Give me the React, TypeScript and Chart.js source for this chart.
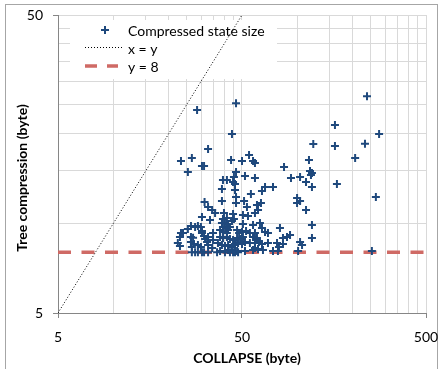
import React, { useEffect, useRef } from "react";
import { Chart, registerables } from "chart.js";

Chart.register(...registerables);

// ---- data ----
const collapseBytes = [
  28.5, 32.7, 23.3, 26.7, 30.3, 31.1, 25.4, 31.3, 32.7, 34.4, 30.3, 33.5, 26.4, 27.8, 25.4, 28.8, 29.9, 30.3, 23.3, 23.9,
  23.0, 26.4, 27.1, 30.3, 31.1, 31.5, 32.7, 32.3, 22.4, 23.0, 26.4, 27.4, 26.7, 28.8, 29.9, 32.7, 34.4, 26.7, 27.8, 28.8,
  30.3, 31.1, 32.7, 34.8, 44.1, 46.4, 43.6, 50.0, 54.6, 57.4, 58.8, 46.4, 45.2, 51.9, 58.8, 39.4, 41.4, 44.7, 45.8, 38.9,
  45.8, 55.9, 38.9, 46.4, 46.4, 51.3, 64.2, 63.4, 53.2, 60.3, 35.7, 39.9, 44.7, 50.6, 53.9, 58.8, 39.4, 41.4, 44.1, 45.2,
  50.6, 57.4, 38.9, 40.4, 42.0, 39.4, 41.4, 43.0, 38.0, 39.4, 41.4, 42.0, 47.0, 48.2, 50.0, 34.8, 38.0, 39.4, 41.4, 43.0,
  44.7, 47.0, 48.8, 50.6, 51.9, 55.2, 57.4, 60.3, 37.0, 38.9, 40.4, 42.0, 44.1, 45.8, 47.6, 50.0, 55.2, 58.8, 38.0, 40.4,
  42.0, 44.7, 47.0, 47.6, 51.9, 57.4, 61.1, 36.6, 43.0, 45.8, 52.6, 66.7, 73.7, 61.1, 99.6, 103.4, 99.6, 111.4, 111.4, 120.0,
  62.6, 64.2, 66.7, 69.2, 80.4, 120.0, 91.2, 87.8, 83.5, 58.8, 60.3, 61.8, 64.2, 69.2, 77.5, 79.4, 78.4, 103.4, 106.0, 100.9,
  120.0, 65.0, 73.7, 58.8, 83.5, 239, 160, 278, 122, 160, 233, 206, 115.6, 84.6, 117.1, 120.0, 118.5, 92.3, 103.4, 164,
  267, 254,
];
const treeBytes = [
  24.0, 17.75, 16.18, 16.56, 15.57, 15.57, 14.86, 11.79, 11.34, 11.08, 10.5, 10.26, 9.8, 9.72, 9.57, 9.8, 9.72, 9.42, 9.28, 9.28,
  9.0, 9.0, 8.95, 9.28, 9.07, 8.86, 9.0, 8.65, 8.59, 8.39, 8.65, 8.52, 8.33, 8.46, 8.33, 8.46, 8.26, 8.0, 8.0, 8.0,
  8.0, 8.0, 8.0, 8.79, 19.94, 25.3, 16.31, 16.18, 16.95, 16.18, 15.94, 14.86, 14.3, 14.41, 14.19, 13.97, 13.97, 13.76, 13.55, 13.04,
  12.94, 12.54, 11.88, 12.25, 11.7, 11.88, 12.84, 11.7, 11.34, 11.52, 10.83, 10.83, 10.75, 10.66, 10.58, 10.83, 10.34, 10.42, 10.18, 10.34,
  9.95, 9.87, 10.02, 10.02, 9.95, 9.72, 9.64, 9.72, 9.5, 9.35, 9.28, 9.5, 9.5, 9.28, 9.35, 9.28, 9.0, 8.93, 9.0, 8.86,
  8.79, 8.93, 8.86, 9.0, 8.65, 9.28, 9.0, 8.79, 8.59, 8.46, 8.39, 8.46, 8.33, 8.46, 8.59, 8.52, 8.59, 8.59, 8.07, 8.0,
  8.14, 8.0, 8.07, 8.0, 8.07, 8.14, 8.2, 8.0, 8.0, 8.0, 9.42, 13.24, 13.24, 11.08, 12.16, 11.88, 11.7, 11.08, 13.76, 13.24,
  10.02, 9.64, 9.35, 9.28, 9.64, 9.87, 9.14, 9.0, 8.93, 9.28, 8.93, 8.65, 8.52, 8.59, 8.59, 8.33, 8.07, 8.65, 8.46, 8.07,
  8.93, 8.14, 8.07, 8.26, 8.52, 26.7, 21.37, 19.94, 18.45, 18.17, 18.5, 16.56, 16.31, 15.45, 14.98, 14.75, 14.52, 14.19, 14.3, 13.55,
  12.25, 8.07,
];
const identityX = [5, 50];
const identityY = [5, 50];
const thresholdX = [5, 500];
const thresholdY = [8, 8];
const xTickValues = [5, 10, 15, 20, 25, 30, 35, 40, 45, 50, 100, 150, 200, 250, 300, 350, 400, 450, 500];
const yTickValues = [5, 10, 15, 20, 25, 30, 35, 40, 45, 50];
const xLabelled = [5, 50, 500];
const yLabelled = [5, 50];
const seriesNames = ["Compressed state size", "x = y", "y = 8"];
const xTitle = "COLLAPSE (byte)";
const yTitle = "Tree compression (byte)";

const FONT = "Lato, 'Open Sans', sans-serif";
const MARKER = "#1f497d";
const RED = "#cf6a65";
const GRID = "#d9d9d9";
const AXIS = "#868686";

const overlay = {
  id: "overlay",
  beforeDraw(chart: any) {
    const ctx = chart.ctx;
    ctx.save();
    ctx.fillStyle = "#fff";
    ctx.fillRect(0, 0, chart.width, chart.height);
    ctx.strokeStyle = "#a6a6a6";
    ctx.lineWidth = 1;
    ctx.strokeRect(5.5, 4.5, chart.width - 7, chart.height + 20);
    ctx.restore();
  },
  beforeDatasetsDraw(chart: any) {
    const ctx = chart.ctx;
    const a = chart.chartArea;
    const lx = a.left + 12;
    const ly = a.top + 5;
    ctx.save();
    ctx.fillStyle = "#fff";
    ctx.fillRect(lx, ly, 207, 59);
    const symX = a.left + 27;
    const textX = a.left + 70;
    const rows = [ly + 10, ly + 28, ly + 46];
    ctx.strokeStyle = MARKER;
    ctx.lineWidth = 2;
    const cx = a.left + 47;
    ctx.beginPath();
    ctx.moveTo(cx - 4, rows[0]);
    ctx.lineTo(cx + 4, rows[0]);
    ctx.moveTo(cx, rows[0] - 4);
    ctx.lineTo(cx, rows[0] + 4);
    ctx.stroke();
    ctx.strokeStyle = "#000";
    ctx.lineWidth = 1;
    ctx.setLineDash([1, 2]);
    ctx.beginPath();
    ctx.moveTo(symX, rows[1] - 0.5);
    ctx.lineTo(symX + 38, rows[1] - 0.5);
    ctx.stroke();
    ctx.strokeStyle = RED;
    ctx.lineWidth = 3.5;
    ctx.setLineDash([12, 10]);
    ctx.beginPath();
    ctx.moveTo(symX, rows[2]);
    ctx.lineTo(symX + 33, rows[2]);
    ctx.stroke();
    ctx.setLineDash([]);
    ctx.fillStyle = "#000";
    ctx.font = `14px ${FONT}`;
    ctx.textBaseline = "middle";
    ctx.textAlign = "left";
    seriesNames.forEach((n, i) => ctx.fillText(n, textX, rows[i] + 1));
    ctx.restore();
  },
  afterDraw(chart: any) {
    const ctx = chart.ctx;
    const a = chart.chartArea;
    ctx.save();
    ctx.fillStyle = "#000";
    ctx.font = `bold 14px ${FONT}`;
    ctx.textAlign = "center";
    ctx.textBaseline = "middle";
    ctx.fillText(xTitle, (a.left + a.right) / 2 + 5, 358);
    ctx.translate(22, 178);
    ctx.rotate(-Math.PI / 2);
    ctx.fillText(yTitle, 0, 0);
    ctx.restore();
  },
};

const zeroPad = (s: any) => {
  s.paddingLeft = 0;
  s.paddingRight = 0;
  s.paddingTop = 0;
  s.paddingBottom = 0;
};

export default function App() {
  const ref = useRef<HTMLCanvasElement>(null);
  useEffect(() => {
    if (!ref.current) return;
    const scatterData = collapseBytes.map((x, i) => ({ x, y: treeBytes[i] }));
    const idData = identityX.map((x, i) => ({ x, y: identityY[i] }));
    const thData = thresholdX.map((x, i) => ({ x, y: thresholdY[i] }));
    const tickFont = { family: FONT, size: 14 };
    const chart = new Chart(ref.current, {
      type: "scatter",
      data: {
        datasets: [
          {
            label: seriesNames[0],
            data: scatterData,
            pointStyle: "cross",
            pointRadius: 4,
            pointBorderWidth: 2,
            borderColor: MARKER,
            backgroundColor: MARKER,
          },
          {
            type: "line",
            label: seriesNames[1],
            data: idData,
            borderColor: "#000",
            borderWidth: 1,
            borderDash: [1, 2],
            pointRadius: 0,
            fill: false,
          },
          {
            type: "line",
            label: seriesNames[2],
            data: thData,
            borderColor: RED,
            borderWidth: 3.5,
            borderDash: [13, 10.5],
            pointRadius: 0,
            fill: false,
          },
        ] as any,
      },
      options: {
        animation: false,
        responsive: false,
        devicePixelRatio: 1,
        layout: { padding: { top: 15, right: 13, bottom: 0, left: 0 } },
        plugins: { legend: { display: false }, tooltip: { enabled: false } },
        scales: {
          x: {
            type: "logarithmic",
            min: 5,
            max: 500,
            afterBuildTicks: (s: any) => {
              s.ticks = xTickValues.map((v) => ({ value: v }));
            },
            afterFit: (s: any) => {
              s.height = 56;
              zeroPad(s);
            },
            ticks: {
              autoSkip: false,
              maxRotation: 0,
              padding: 11,
              color: "#000",
              font: tickFont,
              callback: (v: any) => (xLabelled.includes(Number(v)) ? String(v) : ""),
            },
            grid: {
              color: GRID,
              lineWidth: 1,
              tickLength: 5,
              tickColor: (c: any) => (c.tick && xLabelled.includes(c.tick.value) ? AXIS : "rgba(0,0,0,0)"),
            },
            border: { color: AXIS, width: 1 },
          },
          y: {
            type: "logarithmic",
            min: 5,
            max: 50,
            afterBuildTicks: (s: any) => {
              s.ticks = yTickValues.map((v) => ({ value: v }));
            },
            afterFit: (s: any) => {
              s.width = 58;
              zeroPad(s);
            },
            ticks: {
              autoSkip: false,
              padding: 10,
              color: "#000",
              font: tickFont,
              callback: (v: any) => (yLabelled.includes(Number(v)) ? String(v) : ""),
            },
            grid: {
              color: GRID,
              lineWidth: 1,
              tickLength: 5,
              tickColor: (c: any) => (c.tick && yLabelled.includes(c.tick.value) ? AXIS : "rgba(0,0,0,0)"),
            },
            border: { color: AXIS, width: 1 },
          },
        },
      } as any,
      plugins: [overlay],
    });
    return () => chart.destroy();
  }, []);
  return (
    <div style={{ position: "absolute", left: 0, top: 0, width: 439, height: 369, background: "#fff" }}>
      <canvas ref={ref} width={439} height={369} style={{ display: "block", width: 439, height: 369 }} />
    </div>
  );
}
